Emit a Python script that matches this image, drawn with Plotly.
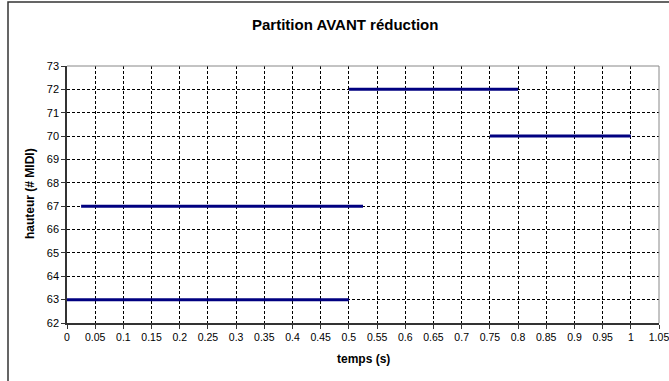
import plotly.graph_objects as go

# Notes: start time (s), end time (s), pitch (MIDI)
note_start = [0.0, 0.025, 0.5, 0.75]
note_end = [0.5, 0.525, 0.8, 1.0]
note_pitch = [63, 67, 72, 70]

x_ticks = [round(i * 0.05, 2) for i in range(22)]
x_tick_labels = ["0", "0.05", "0.1", "0.15", "0.2", "0.25", "0.3", "0.35", "0.4", "0.45", "0.5",
                 "0.55", "0.6", "0.65", "0.7", "0.75", "0.8", "0.85", "0.9", "0.95", "1", "1.05"]
y_ticks = list(range(62, 74))

W, H = 669, 381
L, R, T, B = 67, 10, 66, 58
pw, ph = W - L - R, H - T - B

fig = go.Figure()
for s, e, p in zip(note_start, note_end, note_pitch):
    fig.add_trace(go.Scatter(x=[s, e], y=[p, p], mode="lines",
                             line=dict(color="#000080", width=3),
                             showlegend=False, hoverinfo="skip"))

font = "Liberation Sans, Arial, sans-serif"
fig.update_layout(
    width=W, height=H,
    margin=dict(l=L, r=R, t=T, b=B, autoexpand=False),
    paper_bgcolor="white", plot_bgcolor="white",
    font=dict(family=font, size=11, color="black"),
    xaxis=dict(range=[0, 1.05], tickvals=x_ticks, ticktext=x_tick_labels,
               showgrid=True, gridcolor="black", griddash="3px,2px", gridwidth=1,
               showline=True, linecolor="#333", linewidth=1.5,
               ticks="outside", ticklen=4, tickcolor="#333",
               tickfont=dict(size=10.5), ticklabeloverflow="allow", automargin=False,
               zeroline=False, fixedrange=True),
    yaxis=dict(range=[62, 73], tickvals=y_ticks,
               showgrid=True, gridcolor="black", griddash="3px,2px", gridwidth=1,
               showline=True, linecolor="#333", linewidth=1.5,
               ticks="outside", ticklen=4, tickcolor="#333",
               tickfont=dict(size=11), automargin=False,
               zeroline=False, fixedrange=True),
    shapes=[
        dict(type="line", xref="paper", yref="paper", x0=0, x1=1, y0=1, y1=1,
             line=dict(color="#888", width=1), layer="above"),
        dict(type="line", xref="paper", yref="paper", x0=1, x1=1, y0=0, y1=1,
             line=dict(color="#888", width=1), layer="above"),
        dict(type="rect", xref="paper", yref="paper",
             x0=(8 - L) / pw, x1=1.2, y0=-0.5, y1=(ph + T - 2) / ph,
             line=dict(color="#333", width=1.5), layer="above"),
    ],
    annotations=[
        dict(text="<b>Partition AVANT réduction</b>", xref="paper", yref="paper",
             x=(345 - L) / pw, y=(ph + T - 25) / ph, showarrow=False,
             xanchor="center", yanchor="middle", font=dict(size=15)),
        dict(text="<b>temps (s)</b>", xref="paper", yref="paper",
             x=(363 - L) / pw, y=(ph + T - 359) / ph, showarrow=False,
             xanchor="center", yanchor="middle", font=dict(size=12)),
        dict(text="<b>hauteur (# MIDI)</b>", xref="paper", yref="paper",
             x=(30 - L) / pw, y=(ph + T - 194) / ph, showarrow=False, textangle=-90,
             xanchor="center", yanchor="middle", font=dict(size=12)),
    ],
)

fig.write_html("out.html", config={"displayModeBar": False},
               post_script="document.body.style.margin='0px';document.body.style.overflow='hidden';")
